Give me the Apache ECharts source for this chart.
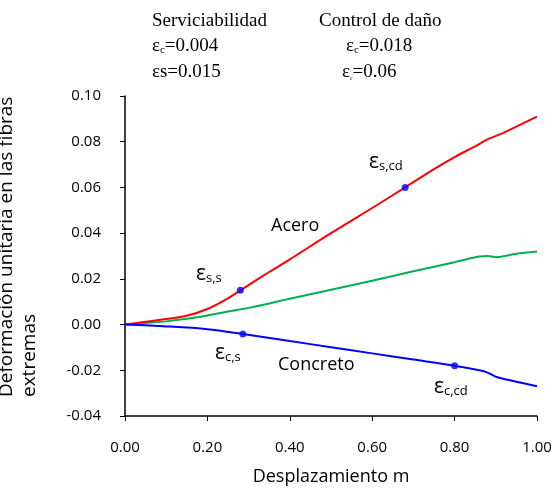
<!DOCTYPE html>
<html>
<head>
<meta charset="utf-8">
<script src="https://cdn.jsdelivr.net/npm/echarts@6/dist/echarts.min.js"></script>
<style>
html, body { margin: 0; padding: 0; background: #fff; }
#main { width: 556px; height: 492px; }
</style>
</head>
<body>
<div id="main"></div>
<script>
// curvas: [desplazamiento, deformacion]
var acero = [[0,0],[0.05,0.0012],[0.1,0.0024],[0.15,0.0039],[0.2,0.0068],[0.25,0.0115],[0.28,0.015],[0.35,0.023],[0.4,0.0285],[0.5,0.040],[0.6,0.051],[0.68,0.060],[0.75,0.068],[0.8,0.0733],[0.85,0.078],[0.88,0.081],[0.92,0.084],[0.96,0.0875],[1.0,0.091]];
var verde = [[0,0],[0.05,0.0007],[0.1,0.0014],[0.15,0.0025],[0.2,0.004],[0.25,0.0057],[0.3,0.0073],[0.4,0.0113],[0.5,0.0152],[0.6,0.0192],[0.7,0.0233],[0.8,0.0273],[0.86,0.0298],[0.88,0.030],[0.9,0.0295],[0.95,0.031],[1.0,0.032]];
var concreto = [[0,0],[0.1,-0.0008],[0.2,-0.002],[0.286,-0.0041],[0.4,-0.0072],[0.5,-0.0099],[0.6,-0.0126],[0.7,-0.0153],[0.8,-0.018],[0.86,-0.020],[0.88,-0.021],[0.9,-0.0228],[0.95,-0.025],[1.0,-0.027]];
// puntos de desempeno
var puntos = [[0.28,0.015],[0.68,0.060],[0.286,-0.0041],[0.80,-0.018]];

var myChart = echarts.init(document.getElementById('main'));

var serif = '"Liberation Serif", "Times New Roman", serif';
var sans = '"Open Sans", sans-serif';

function eps(x, y, sub) {
    return {
        type: 'text', x: x, y: y,
        style: {
            text: '{e|ε}{s|' + sub + '}',
            verticalAlign: 'middle',
            rich: {
                e: { fontFamily: sans, fontSize: 21, fill: '#000' },
                s: { fontFamily: sans, fontSize: 13, fill: '#000', verticalAlign: 'bottom', padding: [9, 0, 0, 0] }
            }
        }
    };
}

function cabecera(x, y, txt) {
    return {
        type: 'text', x: x, y: y,
        style: { text: txt, fontFamily: serif, fontSize: 19, fill: '#000', verticalAlign: 'middle' }
    };
}

function epsTitulo(x, y, sub, valor) {
    return {
        type: 'text', x: x, y: y,
        style: {
            text: '{a|ε}{b|' + sub + '}{a|=' + valor + '}',
            verticalAlign: 'middle',
            rich: {
                a: { fontFamily: serif, fontSize: 19, fill: '#000' },
                b: { fontFamily: serif, fontSize: 11, fill: '#000', padding: [8, 0, 0, 0] }
            }
        }
    };
}

option = {
    animation: false,
    grid: { left: 125, right: 19, top: 96, bottom: 76 },
    xAxis: {
        type: 'value',
        min: 0, max: 1, interval: 0.2,
        name: 'Desplazamiento m',
        nameLocation: 'middle',
        nameGap: 52,
        nameTextStyle: { fontFamily: sans, fontSize: 18, color: '#000' },
        axisLine: { onZero: false, lineStyle: { color: '#000', width: 1.5 } },
        axisTick: { show: true, length: 5, lineStyle: { color: '#000' } },
        axisLabel: { margin: 24, fontFamily: sans, fontSize: 15, color: '#000',
            formatter: function (v) { return v.toFixed(2); } },
        splitLine: { show: false }
    },
    yAxis: {
        type: 'value',
        min: -0.04, max: 0.10, interval: 0.02,
        axisLine: { show: true, lineStyle: { color: '#000', width: 1.5 } },
        axisTick: { show: true, length: 5, lineStyle: { color: '#000' } },
        axisLabel: { margin: 24, fontFamily: sans, fontSize: 15, color: '#000',
            formatter: function (v) { return v.toFixed(2); } },
        splitLine: { show: false }
    },
    series: [
        { type: 'line', data: acero, showSymbol: false, smooth: 0.3, lineStyle: { color: '#ff0000', width: 2 }, z: 3 },
        { type: 'line', data: verde, showSymbol: false, smooth: 0.3, lineStyle: { color: '#00b050', width: 2 }, z: 2 },
        { type: 'line', data: concreto, showSymbol: false, smooth: 0.3, lineStyle: { color: '#0000ff', width: 2 }, z: 3 },
        { type: 'scatter', data: puntos, symbolSize: 7, itemStyle: { color: '#0000ff' }, z: 5 }
    ],
    graphic: [
        cabecera(152, 21, 'Serviciabilidad'),
        cabecera(319, 21, 'Control de daño'),
        epsTitulo(152, 46, 'c', '0.004'),
        cabecera(152, 72, 'εs=0.015'),
        epsTitulo(346, 46, 'c', '0.018'),
        epsTitulo(342, 72, 'ᵣ', '0.06'),
        {
            type: 'text', x: -5, y: 397, rotation: Math.PI / 2,
            style: {
                text: 'Deformación unitaria en las fibras\nextremas',
                fontFamily: sans, fontSize: 19, fill: '#000',
                align: 'left', verticalAlign: 'top', lineHeight: 23
            }
        },
        { type: 'text', x: 271, y: 226, style: { text: 'Acero', fontFamily: sans, fontSize: 18, fill: '#000', verticalAlign: 'middle' } },
        { type: 'text', x: 278, y: 365, style: { text: 'Concreto', fontFamily: sans, fontSize: 18, fill: '#000', verticalAlign: 'middle' } },
        eps(196, 274, 's,s'),
        eps(369, 162, 's,cd'),
        eps(215, 353, 'c,s'),
        eps(434, 387, 'c,cd')
    ]
};

myChart.setOption(option);
</script>
</body>
</html>
